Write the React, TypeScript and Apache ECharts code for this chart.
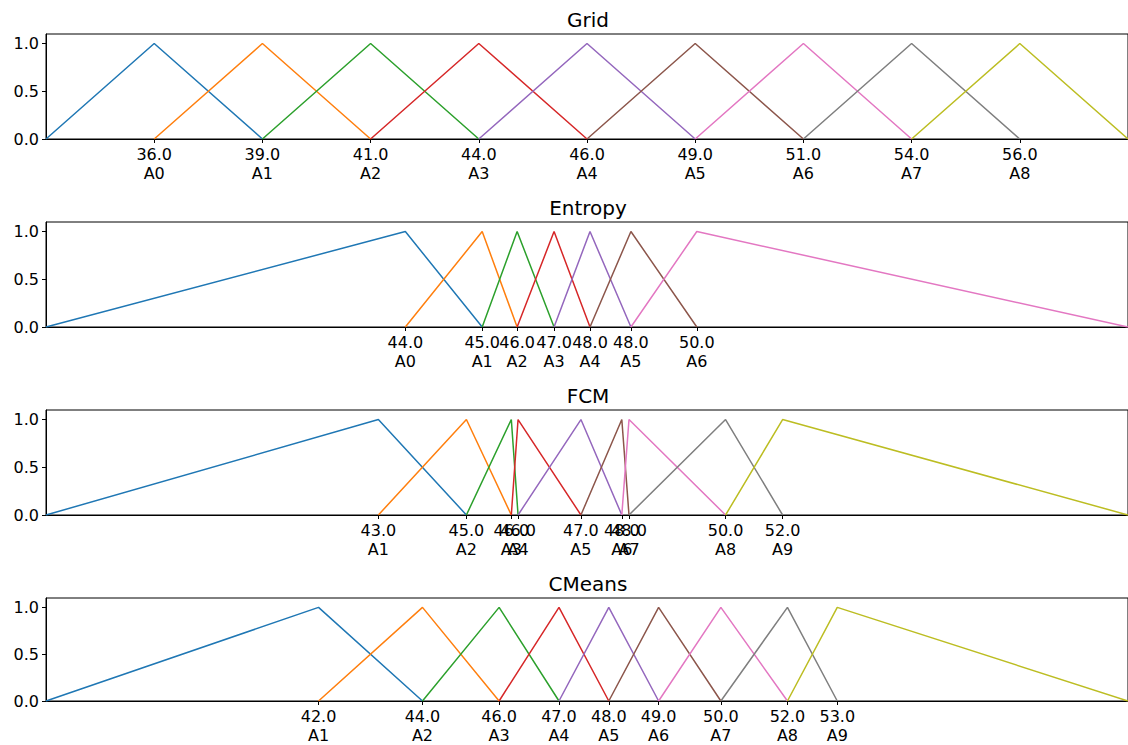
import React, { useEffect, useRef } from "react";
import * as echarts from "echarts";

const COLORS = ["#1f77b4", "#ff7f0e", "#2ca02c", "#d62728", "#9467bd", "#8c564b", "#e377c2", "#7f7f7f", "#bcbd22", "#17becf"];

const titles = ["Grid", "Entropy", "FCM", "CMeans"];

const gridCenters = [36.2, 38.7, 41.2, 43.7, 46.2, 48.7, 51.2, 53.7, 56.2];
const gridNames = ["A0", "A1", "A2", "A3", "A4", "A5", "A6", "A7", "A8"];
const gridRange = [33.7, 58.7];

const entropyCenters = [43.9, 45.44, 46.14, 46.88, 47.6, 48.42, 49.74];
const entropyNames = ["A0", "A1", "A2", "A3", "A4", "A5", "A6"];
const entropyRange = [36.7, 58.38];

const fcmCenters = [42.65, 44.61, 45.61, 45.76, 47.16, 48.07, 48.23, 50.38, 51.65];
const fcmNames = ["A1", "A2", "A3", "A4", "A5", "A6", "A7", "A8", "A9"];
const fcmRange = [35.25, 59.34];

const cmeansCenters = [41.9, 44.07, 45.67, 46.92, 47.96, 49.0, 50.3, 51.69, 52.73];
const cmeansNames = ["A1", "A2", "A3", "A4", "A5", "A6", "A7", "A8", "A9"];
const cmeansRange = [36.21, 58.8];

const yTicks = [0, 0.5, 1.0];

const panels = [
  { centers: gridCenters, names: gridNames, range: gridRange },
  { centers: entropyCenters, names: entropyNames, range: entropyRange },
  { centers: fcmCenters, names: fcmNames, range: fcmRange },
  { centers: cmeansCenters, names: cmeansNames, range: cmeansRange },
];

const FONT = "DejaVu Sans";

export default function App() {
  const ref = useRef<HTMLDivElement>(null);
  useEffect(() => {
    if (!ref.current) return;
    const chart = echarts.init(ref.current, null, { renderer: "svg" });
    const grids: any[] = [];
    const xAxes: any[] = [];
    const yAxes: any[] = [];
    const series: any[] = [];
    const title: any[] = [];
    panels.forEach((p, gi) => {
      const top = 34 + gi * 188;
      grids.push({ left: 46, top, width: 1084, height: 105, show: true, borderColor: "#000", borderWidth: 1, backgroundColor: "transparent" });
      title.push({
        text: titles[gi],
        left: 588,
        top: 10 + gi * 188,
        textAlign: "center",
        padding: 0,
        textStyle: { fontFamily: FONT, fontSize: 20, fontWeight: "normal", color: "#000" },
      });
      xAxes.push({
        type: "value",
        gridIndex: gi,
        min: p.range[0],
        max: p.range[1],
        axisLine: { show: true, onZero: false, lineStyle: { color: "#000", width: 1 } },
        axisTick: { show: true, customValues: p.centers, length: 4, lineStyle: { color: "#000", width: 1 } },
        axisLabel: {
          show: true,
          customValues: p.centers,
          margin: 6,
          fontFamily: FONT,
          fontSize: 16,
          lineHeight: 19,
          color: "#000",
          formatter: (v: number) => {
            let bi = 0;
            let bd = Infinity;
            p.centers.forEach((c, i) => {
              const d = Math.abs(c - v);
              if (d < bd) { bd = d; bi = i; }
            });
            return Math.round(v).toFixed(1) + "\n" + p.names[bi];
          },
        },
        splitLine: { show: false },
      });
      yAxes.push({
        type: "value",
        gridIndex: gi,
        min: 0,
        max: 1.1,
        axisLine: { show: true, lineStyle: { color: "#000", width: 1 } },
        axisTick: { show: true, customValues: yTicks, length: 4, lineStyle: { color: "#000", width: 1 } },
        axisLabel: {
          show: true,
          customValues: yTicks,
          margin: 7,
          fontFamily: FONT,
          fontSize: 16,
          color: "#000",
          formatter: (v: number) => v.toFixed(1),
        },
        splitLine: { show: false },
      });
      p.centers.forEach((c, i) => {
        const l = i === 0 ? p.range[0] : p.centers[i - 1];
        const r = i === p.centers.length - 1 ? p.range[1] : p.centers[i + 1];
        series.push({
          type: "line",
          name: titles[gi] + " " + p.names[i],
          xAxisIndex: gi,
          yAxisIndex: gi,
          data: [[l, 0], [c, 1], [r, 0]],
          showSymbol: false,
          symbol: "none",
          lineStyle: { color: COLORS[i % COLORS.length], width: 1.5 },
          itemStyle: { color: COLORS[i % COLORS.length] },
          silent: true,
        });
      });
    });
    chart.setOption({
      animation: false,
      backgroundColor: "#fff",
      title,
      grid: grids,
      xAxis: xAxes,
      yAxis: yAxes,
      series,
    });
    return () => chart.dispose();
  }, []);
  return <div ref={ref} style={{ position: "fixed", left: 0, top: 0, width: 1128, height: 745 }} />;
}
